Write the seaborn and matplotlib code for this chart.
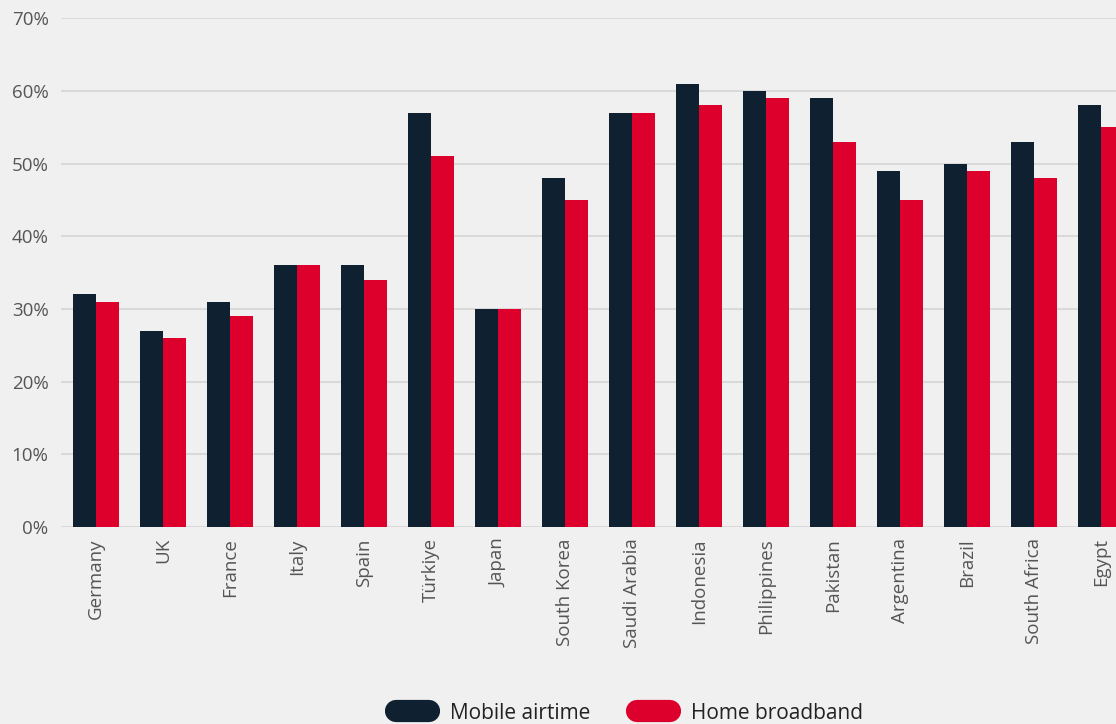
import pandas as pd
import matplotlib.pyplot as plt
import seaborn as sns
from matplotlib.lines import Line2D
from matplotlib.ticker import PercentFormatter

countries = ["Germany", "UK", "France", "Italy", "Spain", "Türkiye", "Japan",
             "South Korea", "Saudi Arabia", "Indonesia", "Philippines", "Pakistan",
             "Argentina", "Brazil", "South Africa", "Egypt"]
mobile_airtime = [32, 27, 31, 36, 36, 57, 30, 48, 57, 61, 60, 59, 49, 50, 53, 58]
home_broadband = [31, 26, 29, 36, 34, 51, 30, 45, 57, 58, 59, 53, 45, 49, 48, 55]
series = ["Mobile airtime", "Home broadband"]
colors = ["#0f2031", "#dd002c"]

df = pd.DataFrame({
    "country": countries * 2,
    "value": mobile_airtime + home_broadband,
    "series": [series[0]] * len(countries) + [series[1]] * len(countries),
})

sns.set_theme(style="white")
plt.rcParams['font.family'] = ['Open Sans', 'DejaVu Sans']
bg = "#f0f0f0"

fig = plt.figure(figsize=(11.16, 7.24), dpi=100, facecolor=bg)
ax = fig.add_axes([0.0547, 0.272, 0.9453, 0.703])
ax.set_facecolor(bg)

sns.barplot(data=df, x="country", y="value", hue="series", palette=colors,
            width=0.69, saturation=1, linewidth=0, ax=ax, legend=False, zorder=3)

ax.set_ylim(0, 70)
ax.set_yticks(range(0, 71, 10))
ax.yaxis.set_major_formatter(PercentFormatter(decimals=0))
ax.set_xlim(-0.52, 15.22)
ax.grid(axis="y", color="#d9d9d9", linewidth=1.5, zorder=0)
ax.set_axisbelow(True)
for s in ax.spines.values():
    s.set_visible(False)
ax.tick_params(axis="both", length=0, labelsize=13.5, colors="#555555")
ax.tick_params(axis="y", pad=9)
ax.tick_params(axis="x", pad=8)
plt.setp(ax.get_xticklabels(), rotation=90)
ax.set_xlabel("")
ax.set_ylabel("")

handles = [Line2D([0], [0], color=c, linewidth=16, solid_capstyle="round") for c in colors]
fig.legend(handles, series, loc="center", bbox_to_anchor=(0.564, 0.015),
           ncol=2, frameon=False, fontsize=15, handlelength=1.6, handletextpad=1.0,
           columnspacing=2.2, labelcolor="#222222")

fig.savefig("out.png", dpi=100, facecolor=bg)
